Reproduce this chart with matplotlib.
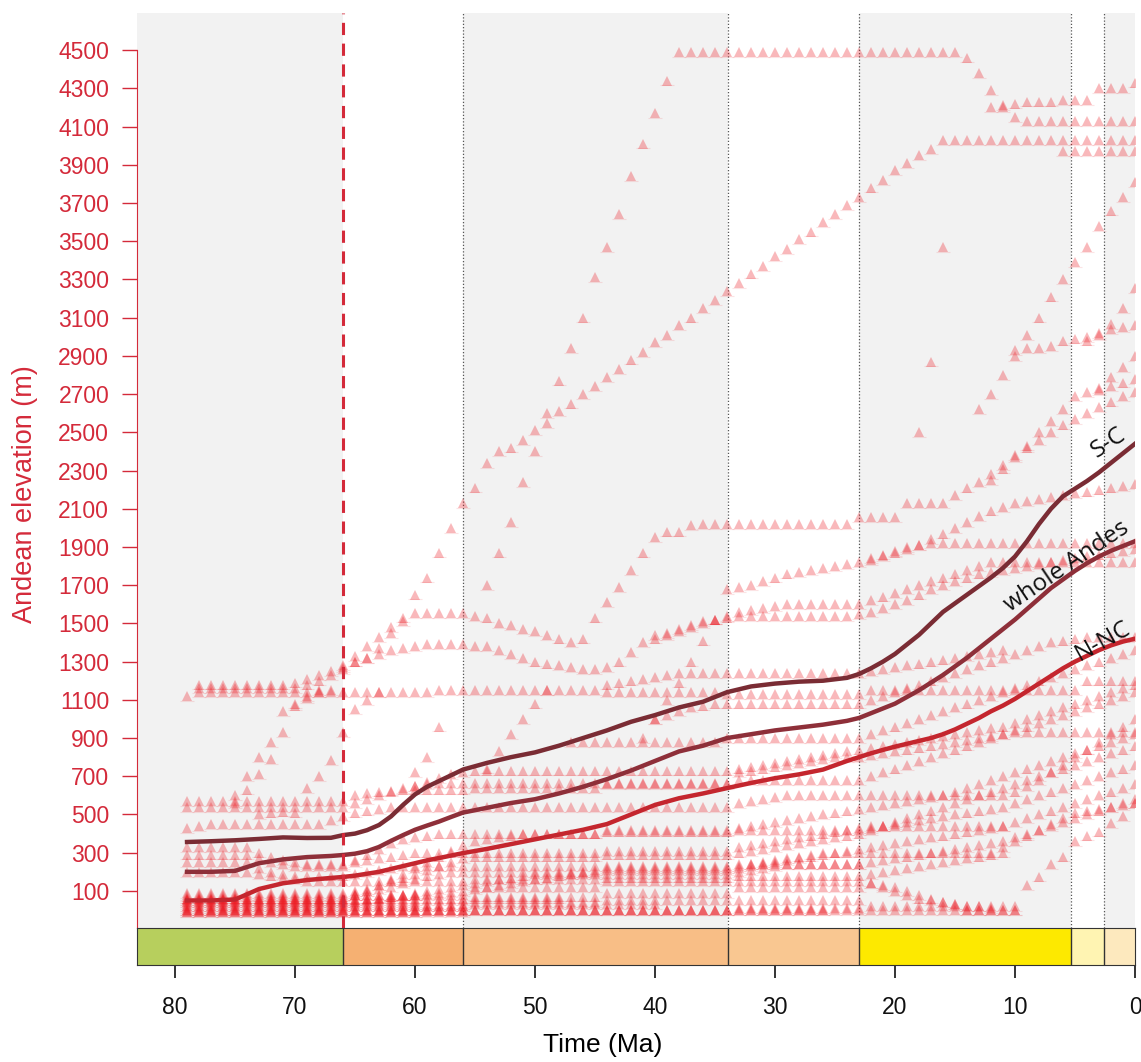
import numpy as np
import matplotlib.pyplot as plt

plt.rcParams['font.family'] = ['Liberation Sans', 'DejaVu Sans']

# geological epochs (Ma)
epoch_start = [100.5, 66.0, 56.0, 33.9, 23.03, 5.333, 2.58]
epoch_end = [66.0, 56.0, 33.9, 23.03, 5.333, 2.58, 0.0]
epoch_colors = ['#b7cf5d', '#f5b072', '#f8be86', '#f9c791', '#fde900', '#fff4b2', '#fde9be']
epoch_shaded = [True, False, True, False, True, False, True]

# smoothed elevation curves
curve_age = [79, 77, 75, 73, 71, 69, 67, 66, 65, 64, 63, 62, 61, 60, 59, 58, 57, 56, 54, 52,
             50, 48, 46, 44, 42, 40, 38, 36, 34, 32, 30, 28, 26, 24, 23, 22, 21, 20, 19, 18,
             17, 16, 15, 14, 13, 12, 11, 10, 9, 8, 7, 6, 5, 4, 3, 2, 1, 0]
sc_elev = [356, 360, 365, 372, 380, 377, 378, 392, 400, 418, 445, 490, 550, 605, 645, 675, 705,
           735, 770, 800, 825, 860, 900, 940, 985, 1020, 1060, 1090, 1140, 1170, 1185, 1195,
           1200, 1215, 1235, 1265, 1300, 1340, 1390, 1440, 1500, 1560, 1605, 1650, 1695, 1740,
           1790, 1850, 1930, 2020, 2100, 2165, 2205, 2245, 2290, 2340, 2390, 2440]
whole_elev = [200, 200, 205, 245, 265, 277, 283, 288, 295, 308, 330, 362, 392, 420, 442, 463,
              487, 510, 535, 560, 580, 610, 645, 685, 730, 780, 830, 860, 900, 920, 940, 955,
              970, 990, 1005, 1030, 1055, 1080, 1115, 1150, 1190, 1230, 1275, 1320, 1370, 1420,
              1470, 1520, 1575, 1630, 1685, 1730, 1775, 1815, 1850, 1880, 1905, 1930]
nnc_elev = [50, 50, 55, 110, 140, 157, 168, 173, 180, 190, 200, 215, 230, 245, 260, 272, 285,
            298, 320, 345, 370, 395, 420, 450, 500, 550, 585, 610, 638, 665, 690, 710, 735, 780,
            800, 820, 838, 855, 870, 885, 900, 920, 945, 975, 1005, 1040, 1070, 1105, 1145, 1185,
            1225, 1265, 1300, 1330, 1360, 1385, 1405, 1420]

# site trajectories: (age of first point, elevations at 1 Ma steps towards the present)
upper_tracks = [
    (54, "1700 1870 2030 2240 2400 2600 2770 2940 3100 3310 3470 3640 3840 4010 4170 4340 "
         "4490*24 4460 4380 4290 4200 4150 4130*10"),
    (79, "1120 1160*9 1180 1200 1230 1260 1300 1320 1370 1450 1510 1650 1740 1870 2000 2130 "
         "2210 2340 2400 2420 2460 2510 2550 2610 2650 2700 2740 2790 2830 2880 2920 2970 3010 "
         "3060 3100 3150 3190 3240 3280 3330 3370 3420 3460 3510 3550 3600 3640 3690 3730 3780 "
         "3820 3870 3910 3950 3980 4030*17"),
    (12, "4200 4210 4220 4230*3 4240*3 4300*3 4330"),
    (6, "3970*7"),
    (13, "2620 2700 2800 2900 3010 3100 3210 3300 3390 3470 3580 3660 3730 3810"),
    (10, "2930 2940 2940 2950 2980 2990 3000 3010 3040 3050 3060"),
    (4, "2980 3020 3065 3150 3255"),
    (3, "2730 2790 2840 2900"),
    (12, "2250 2310 2370 2430 2500 2560 2620 2690 2710 2720 2740 2760 2780"),
    (66, "1280 1330 1380 1430 1480 1530 1555*5 1540 1530 1500 1490 1470 1460 1440 1420 1400 "
         "1420 1530 1610 1690 1780 1870 1950 1980 1980 2015 2020*13 2055*4 2130*4 2170 2210 "
         "2240 2280 2330 2380 2420 2460 2500 2540 2570 2600 2630 2660 2690 2710"),
]

mid_tracks = [
    (78, "1140*20 1150*14 1140*10 1130*12 1150*18 1200*5"),
    (78, "1180*8 1190 1210 1230 1250 1270 1300 1320 1340 1360 1370 1380 1390*4 1380 1380 1360 "
         "1340 1320 1300 1290 1280 1270 1260 1260 1270 1300 1350 1400 1420 1440 1460 1480 1500 "
         "1520 1540 1560 1570 1580 1590 1600*7 1620 1640 1660 1680 1700 1720 1740 1760 1780 "
         "1800 1820*13"),
    (34, "1680 1690 1700 1720 1740 1760 1770 1780 1790 1800 1810 1820 1840 1860 1880 1900 1910 "
         "1920*18"),
    (22, "1830 1850 1870 1890 1910 1940 1970 2000 2030 2060 2090 2110 2130 2140 2150 2160 2170 "
         "2180 2190 2200 2210 2220 2230"),
    (40, "1440 1450 1470 1490 1510 1520 1530 1540*10 1550 1560 1580 1600 1620 1650 1680 1700 "
         "1720 1740 1760 1770 1780 1790 1800 1810 1820 1830 1840 1850 1860 1870 1880 1890"),
    (60, "650 670 690 710 720 730*22 740 750 760 770 780 790 800 810 820 830 840 850 860 870 "
         "880 890 900 910 920 930 940 950 960 980 1000 1020 1040 1060 1080 1100 1120 1140 1160 1180"),
    (47, "880*13 900*12 920 940 960 980 1000 1020 1040 1060 1080 1100 1120 1140 1160 1180 1200 "
         "1220 1240 1260 1280 1300 1320 1340 1360"),
    (40, "1000 1020 1040 1060 1070 1080 1080*12 1100 1120 1140 1160 1180 1200 1220 1240 1260 "
         "1280 1300 1320 1340 1360 1380 1400 1410 1420 1430*5"),
    (44, "1180 1190 1200 1210 1220 1230 1240*4 1240*12 1250 1260 1270 1280 1290 1300 1310 1320 "
         "1330 1340 1350 1360"),
]

low_tracks = [
    (79, "0*70"),
    (79, "0*46 10*11 20*13"),
    (79, "-10*24 0*30"),
    (79, "-10*20"),
    (79, "0*24"),
    (79, "10*14 20*10 30*16"),
    (79, "20*24"),
    (79, "20*14 30*10 40*11 50*11 50*11"),
    (79, "40*14 50*10 60*8"),
    (79, "40*20"),
    (79, "50*14 60*10 70*11 90*11 120*11 140 130 120 100 80 60 40 30 20 20 10"),
    (79, "70*14 80*6"),
    (79, "50*14 55 60 65 70 75 80 85 90 95 100 110 120 130 140 150 160 170 180 190 200 210 "
         "220*11 230 240 250 260 270 280 290 300 300 300 300 300*11 330 360 390 420 450 480 510 "
         "520 530 540 550 560"),
    (79, "80*14 90 100 110 120 140 160 180 190 200 200 200*11 210*11 220 230 240 250 260 270 280 "
         "290 300 310 320 330 340 350 360 370 380 390 400 410 420 430 440 460 480 500 520 540 560 "
         "580 600 620 640 660"),
    (79, "90*14 100 110 130 150 170 190 210 230 250 270 280*11 290*11 300 310 320 330 340 350 360 "
         "370 380 390 400 420 440 460 480 500 520 540 560 580 600 620 640 660 680 700 720 740 760 "
         "780 800 820 840 860"),
    (79, "60*14 80 100 130 160 190 220 250 280 310 340 360 370 380 390 400*7 410*11 420*11 430 440 "
         "450 460 470 480 490 500 510 520 530 540 560 580 600 620 640 660 680 700 720 740 760"),
    (79, "30*14 40 50 60 70 80 90 100 110 120 130 140 150 160 170 180 190*6 190*11 200 210 220 230 "
         "240*7 250 260 270 280 290 300 310 320 330 340 350 360 380 400 420 440 460 480 500 520 "
         "540 560 580"),
    (79, "60*14 80*10 120*11 150*22 140 120 100 80 60 50 40 30 0*5 130 175 240 280 360 390 410 "
         "455 490 560"),
    (79, "330*6 300 280 260 250 240*4 250 260 270 280 290 300*5 300*11 310*11 330 340 350 360 370 "
         "380 390 400 410 420 430 440*12"),
    (79, "290*6 270 250 240 230 230*4 260 290 320 350 370 380 390 400 400 400 400*11 420*11 430 "
         "440 450 460 470 480 490 500 510 520 530 540 550 560 570 580 590 600 620 640 660 680 700 "
         "720 740 760 780 800 820 840 860 880 900 920"),
    (79, "250*6 220 200 190 180 180*4 190 200 210 220 230*6 230*11 230*11 240*11"),
    (79, "200*6 190 180 170 160 150*4 150*10 160*11 170*11 180*11 190 200 210 220 230 240 250 260 "
         "270 280 290 300"),
    (79, "570*14 600 610 620 625 630*6 640*11 660*11 680*11 700 720 740 760 780 800 820 840 860 "
         "880 900 920 940 960 980 1000 1020 1040 1060 1080 1100 1120 1140"),
    (79, "540*14 560 580 600 620 640 650 660 665 665 665 665*22 720 730 740 750 760 770 780 790 800 "
         "800 800 810 820 830 840 850 860 870 880 890 900 910 920 930*11"),
    (79, "430 440 450*10 470 490 510 520 530 540*7 540*22 560 570 580 590 600*7 600*12 620 650 680 "
         "720 760 800 840 880 920 960 1000"),
]

steep_tracks = [
    (75, "560 630 710 790 930 1070 1110 1140 1150"),
    (75, "600 700 800 880 1040 1080 1120 1150"),
    (69, "640 700 785 930 1050 1100 1140"),
    (54, "740 830 920 1000 1080 1150"),
    (41, "900 1000 1100 1190 1300 1410 1520"),
    (60, "720 800 960"),
    (73, "500 510 515 510"),
]
lone_age = [16, 17, 18]
lone_elev = [3470, 2870, 2500]


def expand(start, text):
    vals = []
    for tok in text.split():
        if '*' in tok:
            v, n = tok.split('*')
            vals += [float(v)] * int(n)
        else:
            vals.append(float(tok))
    vals = np.array(vals)
    ages = start - np.arange(len(vals))
    keep = ages >= 0
    return ages[keep], vals[keep]


RED = '#ec1c24'
AXRED = '#d42a3a'
XMAX = 83.17

fig = plt.figure(figsize=(11.41, 10.62), dpi=100)
ax = fig.add_axes([137 / 1141, 1 - 928 / 1062, 998 / 1141, 915 / 1062])
bar = fig.add_axes([137 / 1141, 1 - 965 / 1062, 998 / 1141, 37 / 1062])

ax.set_xlim(XMAX, 0)
ax.set_ylim(-94, 4694)

# alternating background and epoch boundaries
for s, e, shade in zip(epoch_start, epoch_end, epoch_shaded):
    if shade:
        ax.axvspan(min(s, XMAX), e, color='#f2f2f2', lw=0, zorder=0)
for b in epoch_start[2:]:
    ax.axvline(b, color='#555555', lw=0.9, ls=(0, (1, 1.6)), zorder=1)
ax.axvline(66.0, color=AXRED, lw=2.2, ls=(0, (4, 2.8)), zorder=5)

# site trajectories
all_ages, all_vals = [], []
for start, text in upper_tracks + mid_tracks + low_tracks + steep_tracks:
    a, v = expand(start, text)
    all_ages.append(a)
    all_vals.append(v)
all_ages.append(np.array(lone_age, float))
all_vals.append(np.array(lone_elev, float))
pa = np.concatenate(all_ages)
pv = np.concatenate(all_vals)
ax.hlines(pv - 25, pa - 0.55, pa + 0.55, color=RED, lw=0.8, alpha=0.12, zorder=2)
ax.plot(pa, pv, ls='none', marker='^', ms=7.5, mew=0, color=RED, alpha=0.31, zorder=2)

# mean curves
ax.plot(curve_age, sc_elev, color='#7a2c34', lw=3.2, zorder=4)
ax.plot(curve_age, whole_elev, color='#8e2f39', lw=3.2, zorder=4)
ax.plot(curve_age, nnc_elev, color='#c4262e', lw=3.2, zorder=4)

lab = dict(family=['Open Sans', 'DejaVu Sans'], fontsize=17.5, color='#111111',
           ha='center', va='center', rotation_mode='anchor', zorder=6)
ax.text(2.2, 2445, 'S-C', rotation=34, **lab)
ax.text(5.7, 1800, 'whole Andes', rotation=34, **lab)
ax.text(2.7, 1405, 'N-NC', rotation=29, **lab)

# axes styling
ax.set_xticks([])
ax.set_yticks(range(100, 4501, 200))
ax.tick_params(axis='y', colors=AXRED, labelsize=16.5, length=11, width=1, pad=9)
for side in ['top', 'right', 'bottom']:
    ax.spines[side].set_visible(False)
ax.spines['left'].set_color(AXRED)
ax.spines['left'].set_bounds(-94, 4500)

# epoch colour bar
bar.set_xlim(XMAX, 0)
bar.set_ylim(0, 1)
for s, e, c in zip(epoch_start, epoch_end, epoch_colors):
    bar.axvspan(min(s, XMAX), e, color=c, lw=0)
for b in epoch_start[1:]:
    bar.axvline(b, color='#333333', lw=1)
for sp in bar.spines.values():
    sp.set_color('#333333')
bar.set_yticks([])
bar.set_xticks(range(0, 81, 10))
bar.tick_params(axis='x', length=9.5, width=1.2, labelsize=16.5, pad=13, colors='#111111')

fig.text(603 / 1141, 1 - 1045 / 1062, 'Time (Ma)', fontsize=19, ha='center', va='center')
fig.text(25 / 1141, 1 - 494 / 1062, 'Andean elevation (m)', fontsize=19.5, color=AXRED,
         rotation=90, ha='center', va='center')

fig.savefig('out.png', dpi=100)
